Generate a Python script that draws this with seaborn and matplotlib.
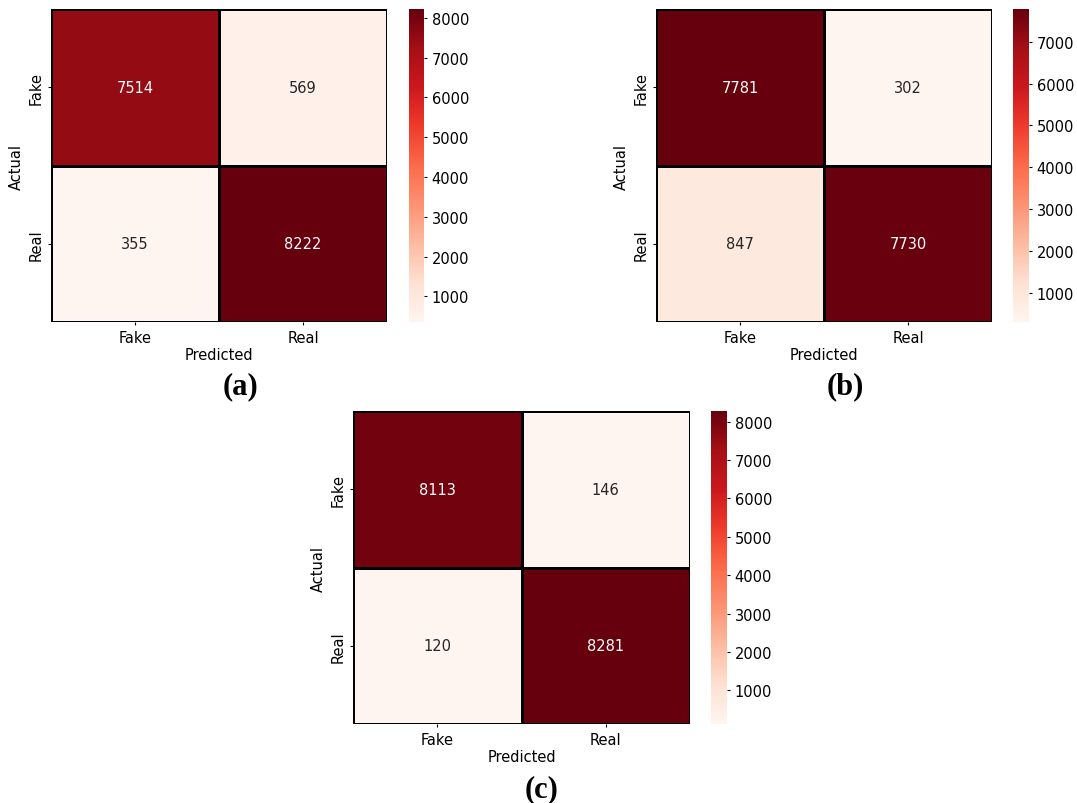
import numpy as np
import seaborn as sns
import matplotlib
matplotlib.use('Agg')
import matplotlib.pyplot as plt

# --- data ---
classes = ['Fake', 'Real']
cm_a = [[7514, 569], [355, 8222]]
cm_b = [[7781, 302], [847, 7730]]
cm_c = [[8113, 146], [120, 8281]]
panel_tags = ['(a)', '(b)', '(c)']

W, H = 1077, 804
fig = plt.figure(figsize=(W / 100, H / 100), dpi=100)

def px_axes(left, top, right, bottom):
    return fig.add_axes([left / W, 1 - bottom / H, (right - left) / W, (bottom - top) / H])

# (heatmap box, colorbar box, tag position) in pixels
layout = [
    ((51, 10, 387, 323), (409, 10, 424, 323), (240, 387)),
    ((656, 10, 992, 323), (1013, 10, 1029, 323), (845, 387)),
    ((353, 412, 690, 725), (711, 412, 727, 725), (542, 790)),
]

fs = 10.5
for cm, (hm_box, cb_box, tag_pos), tag in zip([cm_a, cm_b, cm_c], layout, panel_tags):
    ax = px_axes(*hm_box)
    cax = px_axes(*cb_box)
    sns.heatmap(np.array(cm), annot=True, fmt='d', cmap='Reds',
                linewidths=1, linecolor='black',
                xticklabels=classes, yticklabels=classes,
                ax=ax, cbar_ax=cax, annot_kws={'fontsize': fs})
    ax.set_xlabel('Predicted', fontsize=fs, labelpad=2)
    ax.set_ylabel('Actual', fontsize=fs, labelpad=3)
    ax.tick_params(labelsize=fs, length=2.5, pad=3)
    plt.setp(ax.get_yticklabels(), rotation=90, va='center')
    cax.tick_params(labelsize=fs, length=2.5, pad=3)
    fig.text(tag_pos[0] / W, 1 - tag_pos[1] / H, tag, ha='center', va='center',
             fontsize=22, fontweight='bold', family='Liberation Serif')

plt.savefig('out.png', dpi=100)
